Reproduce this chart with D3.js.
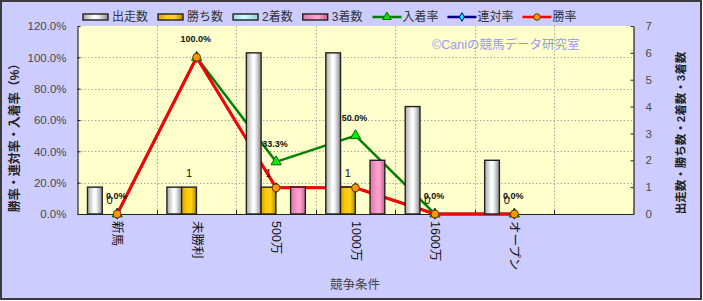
<!DOCTYPE html>
<html>
<head>
<meta charset="utf-8">
<script src="https://cdn.jsdelivr.net/npm/d3@7/dist/d3.min.js"></script>
<style>
  body { margin: 0; background: #fff; }
  svg { display: block; font-family: "Liberation Sans", "Noto Sans CJK JP", sans-serif; }
</style>
</head>
<body>
<div id="chart"></div>
<script>
const categories = ['新馬', '未勝利', '500万', '1000万', '1600万', 'オープン']
const starters = [1, 1, 6, 6, 4, 2]       // 出走数
const wins = [0, 1, 1, 1, 0, 0]           // 勝ち数
const seconds = [0, 0, 0, 0, 0, 0]        // 2着数
const thirds = [0, 0, 1, 2, 0, 0]         // 3着数
const placeRate = [0, 1, 0.333, 0.5, 0, 0]    // 入着率
const rentaiRate = [0, 1, 0.167, 0.167, 0, 0] // 連対率
const winRate = [0, 1, 0.167, 0.167, 0, 0]    // 勝率
const leftTicks = [0, 0.2, 0.4, 0.6, 0.8, 1.0, 1.2]
const rightTicks = [0, 1, 2, 3, 4, 5, 6, 7]

const W = 703, H = 301
const plot = {left: 77.5, right: 633.5, top: 26, bottom: 214}

const svg = d3.select('#chart').append('svg')
  .attr('width', W).attr('height', H)

svg.append('rect')
  .attr('x', 1).attr('y', 1).attr('width', W - 3).attr('height', H - 3)
  .attr('fill', '#ccccff').attr('stroke', '#3a3a3a').attr('stroke-width', 2)

// gradients for the cylinder look
const defs = svg.append('defs')
const grad = (id, stops) => {
  const g = defs.append('linearGradient').attr('id', id)
    .attr('x1', '0%').attr('x2', '100%').attr('y1', '0%').attr('y2', '0%')
  stops.forEach(s => g.append('stop').attr('offset', s[0]).attr('stop-color', s[1]))
}
grad('gGray', [[0, '#a8a8a8'], [0.45, '#ffffff'], [0.6, '#f4f4f4'], [1, '#8a8a8a']])
grad('gGold', [[0, '#d9a300'], [0.35, '#ffcc00'], [0.65, '#ffd21a'], [1, '#b38600']])
grad('gCyan', [[0, '#a6d9d9'], [0.45, '#ccffff'], [1, '#99cccc']])
grad('gPink', [[0, '#d47aa6'], [0.45, '#ff99cc'], [0.6, '#ffa6d2'], [1, '#c0668f']])

const x = d3.scaleBand().domain(categories.concat([' '])).range([plot.left, plot.right])
const barSeries = [
  {name: '出走数', values: starters, fill: 'url(#gGray)'},
  {name: '勝ち数', values: wins, fill: 'url(#gGold)'},
  {name: '2着数', values: seconds, fill: 'url(#gCyan)'},
  {name: '3着数', values: thirds, fill: 'url(#gPink)'}
]
const xs = d3.scaleBand().domain(barSeries.map(d => d.name)).range([10, 69])
const y = d3.scaleLinear().domain([0, 1.2]).range([plot.bottom, plot.top])
const y2 = d3.scaleLinear().domain([0, 7]).range([plot.bottom, plot.top])

// plot area
svg.append('rect')
  .attr('x', plot.left).attr('y', plot.top)
  .attr('width', plot.right - plot.left).attr('height', plot.bottom - plot.top)
  .attr('fill', '#ffffcc')

const grid = svg.append('g').attr('stroke', '#a8a8a8').attr('stroke-dasharray', '1.5,2')
leftTicks.filter(t => t > 0 && t < 1.2).forEach(t => {
  grid.append('line').attr('x1', plot.left).attr('x2', plot.right)
    .attr('y1', Math.round(y(t)) + 0.5).attr('y2', Math.round(y(t)) + 0.5)
})
x.domain().slice(1).forEach(c => {
  const gx = Math.round(x(c)) + 0.5
  grid.append('line').attr('x1', gx).attr('x2', gx).attr('y1', plot.top).attr('y2', plot.bottom)
})

// axes
const leftAxis = svg.append('g')
  .attr('transform', `translate(${plot.left},0)`)
  .call(d3.axisLeft(y).tickValues(leftTicks).tickFormat(d => (d * 100).toFixed(1) + '%').tickSizeInner(-3).tickSizeOuter(0).tickPadding(11))
const rightAxis = svg.append('g')
  .attr('transform', `translate(${plot.right},0)`)
  .call(d3.axisRight(y2).tickValues(rightTicks).tickFormat(d3.format('d')).tickSizeInner(-3).tickSizeOuter(0).tickPadding(12))
const bottomAxis = svg.append('g')
  .attr('transform', `translate(0,${plot.bottom})`)
  .call(d3.axisBottom(x).tickSizeInner(0).tickSizeOuter(0).tickFormat(''))
x.domain().slice(1).forEach(c => {
  bottomAxis.append('line').attr('x1', Math.round(x(c)) + 0.5).attr('x2', Math.round(x(c)) + 0.5)
    .attr('y1', 0).attr('y2', -4).attr('stroke', '#222')
})
;[leftAxis, rightAxis, bottomAxis].forEach(a => {
  a.select('.domain').attr('stroke', '#222').attr('stroke-width', 1.2)
  a.selectAll('.tick line').attr('stroke', '#222')
  a.selectAll('.tick text').attr('fill', '#4a4a4a').style('font-size', '11.5px')
})

// category labels, rotated
svg.append('g').selectAll('text').data(categories).join('text')
  .attr('transform', d => `translate(${x(d) + x.bandwidth() / 2},221) rotate(90)`)
  .attr('dominant-baseline', 'central')
  .style('font-size', '12.5px').attr('fill', '#111')
  .text(d => d)

// lines
const lineSeries = [
  {name: '入着率', values: placeRate, color: '#008000', width: 2.5, symbol: d3.symbolTriangle, size: 45, fill: '#00ee00', stroke: '#006600'},
  {name: '連対率', values: rentaiRate, color: '#000080', width: 2.5, symbol: d3.symbolDiamond, size: 30, fill: '#00ffff', stroke: '#000080'},
  {name: '勝率', values: winRate, color: '#ff0000', width: 3, symbol: d3.symbolCircle, size: 48, fill: '#ff9900', stroke: '#663300'}
]
const cx = i => x(categories[i]) + x.bandwidth() / 2
const line = d3.line().x((d, i) => cx(i)).y(d => y(d))
lineSeries.forEach(s => {
  svg.append('path').attr('d', line(s.values))
    .attr('fill', 'none').attr('stroke', s.color).attr('stroke-width', s.width)
})

// bars (secondary axis, drawn above the lines)
const bars = svg.append('g')
barSeries.forEach(s => {
  s.values.forEach((v, i) => {
    if (!v) return
    bars.append('rect')
      .attr('x', x(categories[i]) + xs(s.name))
      .attr('y', y2(v))
      .attr('width', xs.bandwidth())
      .attr('height', y2(0) - y2(v))
      .attr('fill', s.fill).attr('stroke', '#222').attr('stroke-width', 1.4)
  })
})

// markers
lineSeries.forEach(s => {
  svg.append('g').selectAll('path').data(s.values).join('path')
    .attr('transform', (d, i) => `translate(${cx(i)},${y(d)})`)
    .attr('d', d3.symbol().type(s.symbol).size(s.size))
    .attr('fill', s.fill).attr('stroke', s.stroke).attr('stroke-width', 1)
})

// data labels
svg.append('g').selectAll('text').data(wins).join('text')
  .attr('x', (d, i) => x(categories[i]) + xs('勝ち数') + xs.bandwidth() / 2)
  .attr('y', d => y2(d) - 10)
  .attr('text-anchor', 'middle').style('font-size', '11px').attr('fill', '#111')
  .text(d => d)
svg.append('g').selectAll('text').data(placeRate).join('text')
  .attr('x', (d, i) => cx(i) - 1)
  .attr('y', d => y(d) - 15)
  .attr('text-anchor', 'middle').style('font-size', '9px').style('font-weight', 'bold').attr('fill', '#111')
  .text(d => (d * 100).toFixed(1) + '%')

// watermark
svg.append('text').attr('x', 432).attr('y', 49)
  .style('font-size', '12.5px').attr('fill', '#9999ee')
  .text('©Caniの競馬データ研究室')

// axis titles
svg.append('text')
  .attr('transform', `translate(15,135) rotate(-90)`)
  .attr('text-anchor', 'middle').attr('dominant-baseline', 'central')
  .style('font-size', '12px').style('font-weight', 'bold').attr('fill', '#222')
  .text('勝率・連対率・入着率（%）')
svg.append('text')
  .attr('transform', `translate(681,133) rotate(-90)`)
  .attr('text-anchor', 'middle').attr('dominant-baseline', 'central')
  .style('font-size', '11.5px').style('font-weight', 'bold').attr('fill', '#222')
  .text('出走数・勝ち数・2着数・3着数')
svg.append('text').attr('x', 355).attr('y', 289)
  .attr('text-anchor', 'middle').style('font-size', '12.5px').attr('fill', '#444')
  .text('競争条件')

// legend
const legend = svg.append('g').attr('transform', 'translate(83,17)')
let lx = 0
barSeries.forEach(s => {
  legend.append('rect').attr('x', lx).attr('y', -3).attr('width', 25).attr('height', 6)
    .attr('fill', s.fill).attr('stroke', '#222').attr('stroke-width', 1.4)
  const t = legend.append('text').attr('x', lx + 29).attr('y', 0)
    .attr('dominant-baseline', 'central').style('font-size', '12px').attr('fill', '#333')
    .text(s.name)
  lx += 29 + t.node().getComputedTextLength() + 10
})
lineSeries.forEach(s => {
  legend.append('line').attr('x1', lx).attr('x2', lx + 29).attr('y1', 0).attr('y2', 0)
    .attr('stroke', s.color).attr('stroke-width', 2.5)
  legend.append('path').attr('transform', `translate(${lx + 14.5},0)`)
    .attr('d', d3.symbol().type(s.symbol).size(s.size * 0.7))
    .attr('fill', s.fill).attr('stroke', s.stroke).attr('stroke-width', 1)
  const t = legend.append('text').attr('x', lx + 30).attr('y', 0)
    .attr('dominant-baseline', 'central').style('font-size', '12px').attr('fill', '#333')
    .text(s.name)
  lx += 30 + t.node().getComputedTextLength() + 9
})
</script>
</body>
</html>
